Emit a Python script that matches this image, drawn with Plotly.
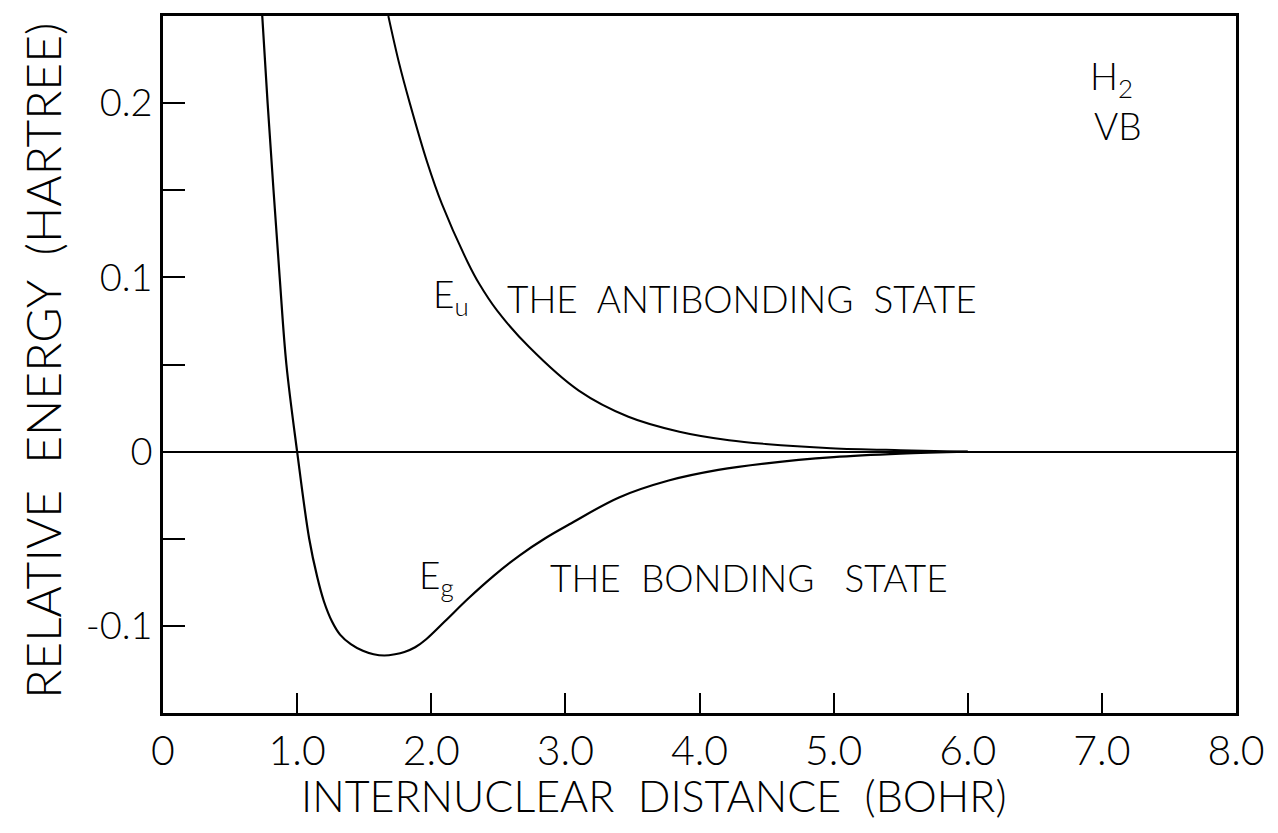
import plotly.graph_objects as go

# Internuclear distance (bohr) and relative energy (hartree)
bonding_r = [0.74, 0.78, 0.87, 0.92, 1.00, 1.09, 1.15, 1.20, 1.26, 1.32, 1.40, 1.49, 1.57, 1.65,
             1.73, 1.80, 1.88, 1.96, 2.10, 2.28, 2.47, 2.66, 2.85, 3.03, 3.40, 3.77, 4.14, 4.50,
             5.00, 5.50, 6.00]
bonding_e = [0.25, 0.20, 0.10, 0.05, 0.0, -0.05, -0.072, -0.086, -0.0975, -0.105, -0.1105, -0.1143, -0.1163, -0.117,
             -0.1163, -0.1150, -0.1123, -0.1078, -0.0975, -0.0840, -0.0710, -0.0595, -0.0497, -0.0417, -0.0263, -0.0166,
             -0.0105, -0.0067, -0.0032, -0.0012, 0.0]

antibonding_r = [1.68, 1.76, 1.84, 1.97, 2.08, 2.27, 2.36, 2.49, 2.73, 3.10, 3.47, 3.85,
                 4.22, 4.49, 4.98, 5.50, 6.00]
antibonding_e = [0.25, 0.223, 0.20, 0.166, 0.142, 0.109, 0.096, 0.081, 0.060, 0.035, 0.020, 0.0114,
                 0.0065, 0.0044, 0.0020, 0.0008, 0.0]

x_tickvals = [0, 1, 2, 3, 4, 5, 6, 7, 8]
x_ticktext = ["0", "1.0", "2.0", "3.0", "4.0", "5.0", "6.0", "7.0", "8.0"]
y_tickvals = [-0.1, -0.05, 0.0, 0.05, 0.1, 0.15, 0.2]
y_ticktext = ["-0.1", "", "0", "", "0.1", "", "0.2"]

FONT = "Lato"
W = 300

fig = go.Figure()
fig.add_trace(go.Scatter(x=bonding_r, y=bonding_e, mode="lines",
                         line=dict(color="black", width=2.2, shape="spline", smoothing=1.0),
                         showlegend=False, hoverinfo="skip"))
fig.add_trace(go.Scatter(x=antibonding_r, y=antibonding_e, mode="lines",
                         line=dict(color="black", width=2.0, shape="spline", smoothing=1.0),
                         showlegend=False, hoverinfo="skip"))

ann_font = dict(family=FONT, size=37, color="black", weight=W)
annotations = [
    dict(x=2.00, y=0.089, text="E<sub>u</sub>", xanchor="left", yanchor="middle"),
    dict(x=2.55, y=0.088, text="THE  ANTIBONDING  STATE", xanchor="left", yanchor="middle"),
    dict(x=1.89, y=-0.072, text="E<sub>g</sub>", xanchor="left", yanchor="middle"),
    dict(x=2.87, y=-0.072, text="THE  BONDING   STATE", xanchor="left", yanchor="middle"),
    dict(x=6.90, y=0.214, text="H<sub>2</sub>", xanchor="left", yanchor="middle"),
    dict(x=6.93, y=0.187, text="VB", xanchor="left", yanchor="middle"),
]
for a in annotations:
    a.update(xref="x", yref="y", showarrow=False, font=ann_font)

# axis titles, placed as in the original drawing
annotations.append(dict(
    x=0.458, y=-0.119, xref="paper", yref="paper", xanchor="center", yanchor="middle",
    text="INTERNUCLEAR  DISTANCE  (BOHR)", showarrow=False,
    font=dict(family=FONT, size=43, color="black", weight=W),
))
annotations.append(dict(
    x=-0.113, y=0.505, xref="paper", yref="paper", xanchor="center", yanchor="middle",
    text="RELATIVE  ENERGY  (HARTREE)", showarrow=False, textangle=-90,
    font=dict(family=FONT, size=48, color="black", weight=W),
))

fig.update_layout(
    width=1262, height=817,
    margin=dict(l=155, r=29, t=5, b=112),
    paper_bgcolor="white", plot_bgcolor="white",
    annotations=annotations,
    font=dict(family=FONT, color="black", weight=W),
)
fig.update_xaxes(
    range=[0, 8], tickvals=x_tickvals, ticktext=x_ticktext,
    ticks="inside", ticklen=20, tickwidth=2, tickcolor="black",
    showline=True, linewidth=2.5, linecolor="black", mirror=True,
    showgrid=False, zeroline=False,
    tickfont=dict(family=FONT, size=41, color="black", weight=W),
    ticklabelstandoff=0,
)
fig.update_yaxes(
    range=[-0.15, 0.25], tickvals=y_tickvals, ticktext=y_ticktext,
    ticks="inside", ticklen=22, tickwidth=2, tickcolor="black",
    showline=True, linewidth=2.5, linecolor="black", mirror=True,
    showgrid=False, zeroline=True, zerolinecolor="black", zerolinewidth=2,
    tickfont=dict(family=FONT, size=38, color="black", weight=W),
    ticklabelstandoff=0,
)

fig.write_html("out.html")
